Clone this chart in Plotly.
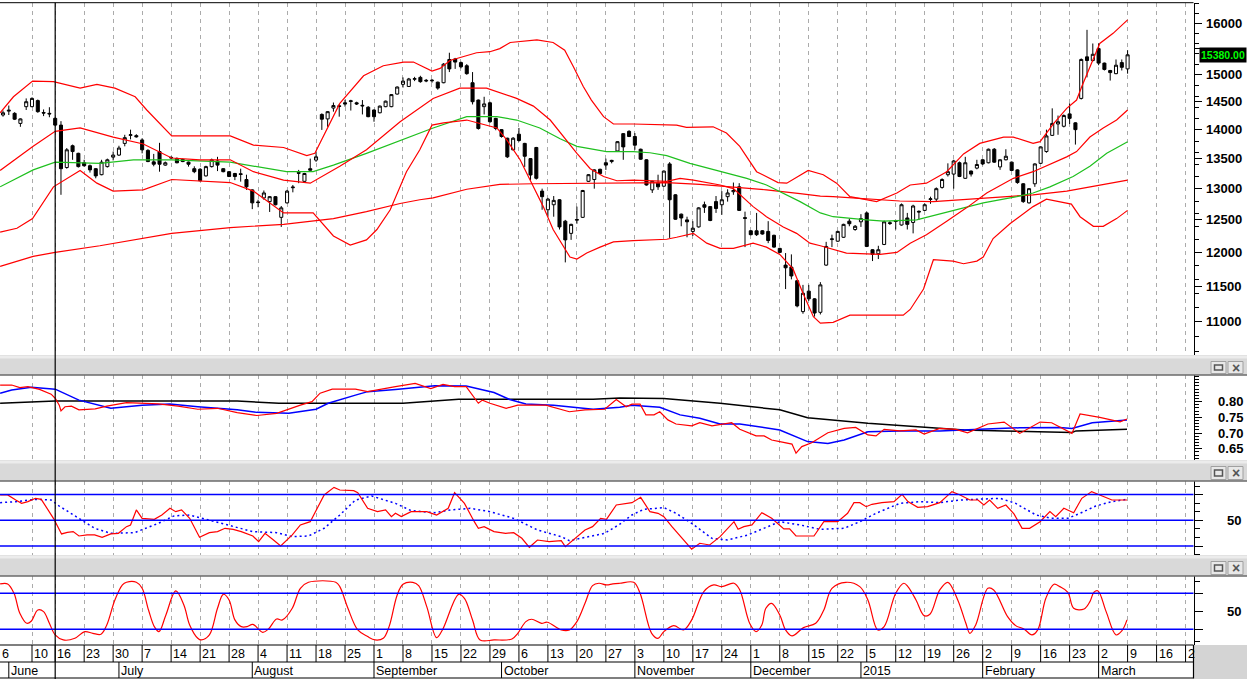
import math
import plotly.graph_objects as go

W, H = 1247, 679

# ---------------- price bars (trading-day index 0..194) ----------------
opens = [14260,14330,14290,14110,14410,14410,14520,14305,14290,14200,
         14080,13350,13720,13590,13430,13380,13330,13230,13365,13525,
         13560,13760,13900,13895,13820,13640,13445,13620,13390,13510,
         13500,13485,13440,13330,13320,13210,13365,13460,13330,13280,
         13250,13245,13150,12980,12785,12850,12790,12870,12540,12770,
         13015,13265,13120,13330,13475,14270,14190,14385,14425,14480,
         14505,14480,14435,14400,14350,14300,14410,14410,14640,14820,
         14780,14915,14950,14895,14885,14860,14850,15290,15300,15230,
         15170,14850,14530,14410,14480,14200,14000,13850,13650,13920,
         13760,13500,13690,12960,12660,12740,12820,12480,12290,12495,
         12540,13120,13150,13320,13430,13450,13630,13930,13970,13880,
         13660,13480,12980,13090,13040,13410,12900,12590,12500,12320,
         12390,12740,12710,12790,12740,12870,12950,13030,12535,12330,
         12330,12330,12320,12260,12060,11810,11780,11580,11140,11430,
         11320,11130,11810,12195,12170,12230,12480,12350,12470,12610,
         12040,11980,12120,12455,12475,12420,12530,12460,12635,12650,
         12825,12830,13020,13230,13240,13430,13170,13290,13340,13480,
         13430,13660,13360,13480,13440,13310,13080,12770,13080,13420,
         13620,13900,14100,14060,14280,14120,14560,15340,15270,15500,
         15220,15080,15020,15230,15110]
highs = [14340,14430,14310,14200,14560,14580,14540,14360,14400,14220,
         14150,13680,13740,13600,13480,13400,13340,13480,13500,13620,
         13720,13910,14000,13920,13850,13660,13580,13770,13450,13540,
         13520,13500,13450,13370,13340,13380,13500,13530,13340,13290,
         13260,13330,13230,12990,12820,12970,12880,12880,12720,12980,
         13060,13310,13260,13500,13620,14290,14330,14485,14460,14535,
         14535,14500,14530,14420,14360,14430,14520,14640,14780,14950,
         14940,14960,14980,14920,14920,14870,15220,15420,15320,15250,
         15200,15050,14540,14590,14500,14210,14010,13860,13870,14030,
         13770,13510,13700,13000,12850,12880,12830,12500,12440,12710,
         12980,13240,13320,13330,13500,13480,13800,13940,13990,13940,
         13670,13490,13130,13230,13300,13440,12910,12600,12550,12480,
         12700,12790,12720,12880,12960,12990,13100,13090,12630,12340,
         12610,12340,12480,12270,12070,11990,11970,11590,11520,11520,
         11330,11560,12160,12270,12330,12440,12520,12420,12590,12630,
         12050,12100,12490,12480,12500,12760,12610,12740,12650,12760,
         12870,13020,13170,13420,13480,13450,13530,13300,13480,13490,
         13670,13680,13490,13660,13450,13320,13090,13010,13420,13710,
         14000,14380,14250,14270,14470,14130,15310,15870,15600,15600,
         15230,15090,15290,15290,15470]
lows = [14230,14260,14170,14050,14350,14400,14300,14240,14220,14070,
        12900,13330,13480,13350,13365,13265,13170,13220,13350,13470,
        13545,13710,13830,13860,13590,13440,13370,13280,13380,13490,
        13420,13440,13365,13255,13120,13200,13350,13290,13270,13190,
        13140,13115,12980,12670,12700,12820,12625,12730,12390,12760,
        12940,13090,13110,13300,13445,13995,14050,14320,14230,14410,
        14340,14440,14270,14220,14140,14290,14400,14400,14630,14760,
        14770,14880,14850,14860,14850,14720,14840,15050,15110,15120,
        15000,14450,14000,14270,14120,13990,13860,13510,13640,13790,
        13360,13140,13150,12660,12550,12550,12350,11850,12190,12440,
        12530,13110,13000,13240,13310,13420,13620,13480,13870,13650,
        13480,13050,12930,12980,13030,12220,12500,12400,12230,12250,
        12380,12610,12480,12610,12580,12790,12900,12640,12080,12260,
        12250,12270,12140,12070,11990,11460,11600,11200,11110,11290,
        11070,11100,11800,12080,12160,12220,12400,12330,12390,12080,
        11870,11900,12110,12420,12350,12410,12350,12290,12500,12640,
        12755,12800,13000,13200,13000,13190,13160,13200,13320,13390,
        13420,13430,13310,13470,13290,13080,12770,12760,13030,13410,
        13600,13890,13910,14040,14100,13740,14540,14950,15250,15180,
        15080,14890,15010,15080,15020]
closes = [14300,14345,14185,14190,14500,14560,14320,14295,14280,14080,
          13330,13650,13620,13365,13380,13310,13210,13440,13480,13560,
          13680,13860,13910,13875,13650,13450,13405,13405,13430,13520,
          13430,13450,13405,13280,13130,13365,13480,13390,13280,13200,
          13200,13235,13030,12770,12775,12930,12870,12740,12690,12960,
          13025,13255,13250,13305,13530,14185,14320,14430,14415,14460,
          14515,14460,14425,14230,14230,14420,14510,14630,14770,14880,
          14920,14925,14870,14885,14895,14750,15200,15110,15240,15150,
          15020,14500,14020,14460,14140,14020,13880,13530,13850,13810,
          13540,13225,13170,12870,12830,12810,12390,12190,12430,12505,
          12970,13230,13310,13250,13390,13470,13790,13700,13880,13730,
          13490,13060,13120,13030,13290,12820,12510,12530,12470,12370,
          12690,12700,12490,12680,12820,12930,12970,12650,12525,12270,
          12270,12280,12180,12080,12000,11770,11650,11220,11400,11320,
          11120,11520,12090,12205,12320,12430,12440,12400,12520,12090,
          11970,12040,12470,12445,12485,12740,12430,12720,12625,12740,
          12835,13000,13150,13280,13460,13200,13430,13240,13400,13410,
          13660,13440,13480,13540,13300,13100,12790,13000,13410,13700,
          13890,14110,14140,14250,14200,14000,15290,15270,15390,15220,
          15100,15040,15180,15140,15380]
bar_index = list(range(len(closes)))

# ---------------- overlays on the price panel (index, price) ----------------
bb_upper = [(-0.5,14300),(1.8,14590),(5.1,14880),(8.7,14870),(13.3,14750),(16.2,14820),
            (19.3,14750),(22.8,14590),(24.8,14350),(29.1,13890),(39.2,13890),(43.2,13730),
            (48.4,13690),(52.4,13550),(53.8,13590),(58.1,14470),(62.2,14980),(65.6,15170),
            (69.1,15240),(70.8,15240),(74,15070),(75.4,15120),(77.1,15270),(81.7,15420),
            (84,15440),(85.7,15500),(87.5,15620),(92.1,15670),(94.9,15620),(96.9,15470),
            (98.4,15150),(100.1,14780),(101.5,14530),(103.6,14230),(105.3,14100),(108.7,14100),
            (116.2,14080),(117.9,14040),(122.5,14050),(124.8,13940),(127.1,13710),(130,13280),
            (133.7,13100),(135.2,13090),(138.9,13300),(141.5,13230),(143.8,13090),(146.1,12870),
            (150.7,12790),(154.2,12930),(156.5,13060),(159.3,13090),(162.8,13280),(165.7,13580),
            (168.5,13760),(172.6,13870),(174.3,13870),(177.7,13760),(178.9,13790),(181.2,14100),
            (183.5,14380),(185.2,14530),(186.1,14780),(187.5,15150),(189.2,15600),(191.5,15800),
            (194,16070)]
bb_middle = [(-0.5,13300),(5.2,13710),(9,13970),(13.3,14030),(19,13870),(24.2,13750),
             (29.1,13510),(34,13480),(39.2,13480),(43.2,13280),(48.4,13140),(53,13090),
             (58.1,13370),(62.7,13650),(68.5,14140),(71.4,14350),(74.2,14560),(78.8,14750),
             (83.4,14750),(88.6,14560),(91.5,14420),(94.4,14170),(96.7,13870),(99,13590),
             (101.3,13330),(103.6,13200),(105.9,13130),(108.7,13140),(114.5,13120),(116.8,13170),
             (119.1,13140),(123.7,13060),(126,13000),(129.4,12710),(131.7,12550),(134.6,12390),
             (136.9,12290),(139.2,12140),(141,12100),(145.5,11990),(151.3,11970),(154.2,12000),
             (156.5,12140),(159.3,12270),(162.8,12480),(166.2,12690),(169.7,12930),(174.3,13170),
             (177.7,13280),(178.9,13330),(183.5,13530),(185.2,13620),(187.5,13870),(189.8,14030),
             (192.1,14170),(194,14350)]
bb_lower = [(-0.5,12310),(2.4,12370),(5.1,12520),(8.7,13030),(13.3,13300),(16.2,13090),
            (19,12960),(24.2,12980),(29.1,13150),(34,13120),(39.2,13100),(43.2,12960),
            (48.4,12610),(53.5,12610),(54.7,12480),(57,12250),(59.9,12110),(62.7,12190),
            (64.5,12350),(66.8,12660),(69.6,13280),(71.9,13650),(74,14080),(76,14120),
            (80,14170),(82.3,14110),(85.2,14030),(86.9,13820),(89.2,13480),(91.5,13030),
            (93.2,12710),(94.9,12350),(96.7,12080),(97.8,11930),(99,11900),(100.7,11990),
            (103,12080),(105.3,12160),(108.7,12180),(114.5,12200),(116.2,12230),(119.1,12290),
            (121.4,12140),(123.7,12060),(126,12060),(129.4,12140),(131.7,12080),(134,11970),
            (136.3,11750),(138,11400),(139.8,11070),(141,10980),(143.2,10990),(146.1,11090),
            (150.7,11090),(155.3,11090),(156.5,11170),(158.8,11460),(160.5,11890),(163.9,11870),
            (165.7,11830),(168,11870),(169.1,11930),(170.8,12210),(173.7,12440),(177.7,12710),
            (180,12830),(182.3,12790),(184.3,12750),(185.8,12550),(188.1,12400),(189.8,12400),
            (192.1,12520),(194,12650)]
ma_long = [(-0.5,11790),(5.2,11940),(9,12000),(16.7,12100),(29.1,12290),(39.2,12380),
           (48.4,12430),(57,12520),(62.7,12630),(68.5,12760),(71.9,12820),(74.2,12850),
           (80,12990),(85.7,13070),(91.5,13080),(103,13090),(114.5,13100),(120.2,13070),
           (126,13030),(131.7,12980),(137.5,12920),(141,12880),(143.2,12870),(149,12830),
           (154.7,12800),(160.5,12790),(166.2,12830),(172,12870),(177.7,12900),(183.5,12960),
           (189.2,13060),(194,13140)]
ma_green = [(-0.5,13030),(5.2,13310),(9,13440),(16.7,13420),(22.5,13480),(29.1,13480),
            (39.2,13440),(43.2,13370),(48.9,13280),(53.5,13280),(57,13390),(62.7,13590),
            (68.5,13815),(71.9,13940),(74.2,14030),(80,14230),(85.2,14230),(88.6,14170),
            (92.6,14030),(96.1,13840),(99,13710),(104.1,13620),(108.7,13620),(111.6,13600),
            (114.5,13550),(118.5,13420),(123.7,13280),(128.3,13170),(131.7,13060),(134.6,12930),
            (137.5,12790),(141,12610),(143.2,12550),(149,12500),(151.9,12480),(157.6,12500),
            (163.4,12630),(169.1,12770),(174.9,12870),(177.7,12930),(180.6,13030),(184.6,13200),
            (187.5,13370),(190.4,13590),(194,13790)]
resistance_level = 13580
resistance_start = 105

# ---------------- panel 2 (ratio lines) ----------------
p2_black = [(-0.5,0.795),(4.3,0.798),(9,0.802),(40.4,0.802),(47.6,0.795),(69,0.795),(75.9,0.805),
            (78.6,0.808),(101.8,0.808),(106.4,0.812),(114,0.810),(123.7,0.795),(134,0.774),
            (138.8,0.749),(149.2,0.731),(158.9,0.718),(165.8,0.710),(172.7,0.707),(184.4,0.702),
            (185.1,0.707),(193.9,0.712)]
p2_blue = [(-0.5,0.827),(1.5,0.837),(4.9,0.846),(9,0.840),(13.1,0.805),(18.6,0.779),(24,0.789),
           (28.8,0.793),(33.6,0.784),(40.4,0.774),(43.8,0.766),(49.3,0.763),(54,0.776),(56.1,0.795),
           (60.8,0.821),(62.9,0.832),(67.7,0.839),(74.5,0.851),(79.9,0.850),(84.7,0.829),(87.4,0.807),
           (90.2,0.793),(95,0.789),(98.4,0.782),(101.8,0.776),(106.4,0.782),(108.5,0.789),(113.3,0.782),
           (116.8,0.758),(120.2,0.747),(123.7,0.729),(127.1,0.729),(134,0.710),(138.8,0.673),
           (142.3,0.667),(145.1,0.678),(149.2,0.704),(154.7,0.707),(161.6,0.707),(168.5,0.712),
           (175.4,0.717),(182.3,0.718),(184.4,0.715),(187.9,0.733),(193.9,0.742)]
p2_red = [(-0.5,0.853),(1.5,0.853),(2.9,0.845),(4.3,0.848),(6.3,0.839),(8.3,0.824),(9.0,0.811),
          (9.7,0.789),(10.0,0.771),(10.7,0.784),(11.8,0.786),(13.1,0.774),(15.9,0.777),(17.9,0.786),
          (21.3,0.797),(23.3,0.795),(26.8,0.793),(30.2,0.786),(33.6,0.776),(37,0.779),(40.4,0.765),
          (43.8,0.756),(47.2,0.763),(51.3,0.789),(53.3,0.800),(54.7,0.827),(56.8,0.840),(60.8,0.840),
          (62.9,0.832),(67.7,0.848),(71.1,0.858),(73.8,0.842),(75.9,0.855),(77.9,0.848),(79.9,0.848),
          (82,0.795),(82.7,0.805),(84,0.795),(86.8,0.779),(88.8,0.789),(93.6,0.789),(97.7,0.768),
          (100.4,0.774),(103.8,0.776),(105.8,0.807),(107.5,0.784),(108.5,0.792),(109.9,0.792),
          (110.9,0.758),(112.3,0.758),(113.3,0.768),(114.7,0.742),(116.1,0.729),(118.8,0.723),
          (120.2,0.733),(122.3,0.723),(124.4,0.729),(125.7,0.733),(127.1,0.712),(129.9,0.691),
          (131.3,0.691),(132.6,0.678),(134,0.673),(136.1,0.665),(136.8,0.636),(137.8,0.657),
          (139.5,0.669),(142.3,0.701),(145.1,0.715),(147.1,0.718),(149.2,0.694),(150.6,0.691),
          (152,0.712),(154.7,0.707),(157.5,0.710),(158.9,0.697),(161.6,0.715),(164.4,0.712),
          (166.4,0.701),(168.5,0.718),(169.9,0.729),(172.7,0.735),(175.4,0.699),(178.9,0.735),
          (180.9,0.733),(184.4,0.699),(185.8,0.761),(189.2,0.750),(192.7,0.736),(193.9,0.745)]

# ---------------- panel 3 (oscillator + signal) ----------------
p3_red = [(-0.5,79.6),(0.8,79.6),(2.2,73.7),(3.2,69.8),(4.3,71.8),(5.6,75.7),(6.6,74.5),(7.7,62.1),
          (8.7,52.3),(10.1,34.1),(11.1,36.0),(12.1,36.8),(13.1,31.7),(14.5,32.9),(15.8,32.9),(17.1,30.2),
          (18.6,34.1),(19.9,34.8),(21.3,42.6),(22,44.6),(23,62.1),(24,52.3),(26.1,51.2),(27.4,56.2),
          (28.8,64.0),(29.8,60.1),(30.8,62.1),(32.2,52.3),(33.9,30.2),(35.6,35.6),(37,36.8),(38.3,40.7),
          (39.7,39.5),(41.1,36.8),(43.1,31.7),(44.1,25.1),(45.2,34.8),(46.5,27.8),(47.9,20.0),(49.9,32.9),
          (51.3,44.6),(53,48.4),(54,62.1),(55.4,79.6),(57.1,88.5),(58.1,85.4),(60.5,84.6),(61.2,82.3),
          (62.9,64.0),(64.6,60.1),(66,62.1),(67,54.3),(67.7,58.2),(68.7,54.3),(70.4,60.1),(73.1,60.1),
          (74.8,56.2),(76.8,64.0),(77.9,82.3),(79.6,69.8),(81.3,48.4),(82,40.7),(83,42.6),(84.7,36.8),
          (86.7,34.8),(88.1,35.6),(89.5,29.0),(90.8,18.5),(92.2,27.0),(94.2,25.1),(96.3,26.3),(97,19.3),
          (100.4,38.7),(101.7,42.6),(103.1,52.3),(104.1,51.2),(105.8,67.9),(108.5,70.6),(110,76.8),
          (111.6,60.1),(113,58.2),(114,54.3),(115.4,42.6),(118.8,16.2),(120.2,23.2),(121.9,21.2),
          (123.7,30.9),(126.1,48.4),(126.8,39.5),(127.8,42.6),(129.2,44.6),(130.9,58.9),(132.6,52.3),
          (134.7,39.9),(135.7,39.9),(136.8,31.7),(139.9,31.7),(141.6,48.4),(144,48.4),(145.7,58.2),
          (146.8,70.6),(147.8,70.6),(148.9,65.9),(149.9,68.7),(151.6,70.6),(153.7,71.8),(155.1,80.3),
          (156.1,71.8),(157.8,65.2),(159.5,65.9),(161.6,70.6),(163.7,83.5),(165.1,79.6),(166.8,73.7),
          (168.2,73.7),(169.2,67.9),(170.2,73.7),(171.6,64.0),(173,67.9),(174.4,57.4),(175.8,40.7),
          (177.1,40.7),(178.9,48.4),(180.6,60.1),(181.6,54.3),(183,64.0),(184.7,58.9),(186.1,75.7),
          (187.8,83.5),(189.2,79.6),(191.3,73.7),(193.9,73.7)]
p3_signal = [(-0.5,70.6),(2.2,71.8),(5.6,74.5),(8.3,73.7),(9.7,66.7),(13.1,52.3),(15.8,40.7),
             (18.6,34.8),(22.7,35.6),(26.8,46.5),(29.5,55.1),(32.2,56.2),(35,51.2),(39,44.6),
             (43.1,36.8),(47.2,35.6),(49.9,30.9),(52.7,31.7),(55.4,40.7),(58.1,56.2),(60.8,73.7),
             (63.6,78.4),(67.7,69.8),(70.4,61.3),(74.5,58.9),(77.2,62.1),(80.6,64.0),(84,60.1),
             (88.1,52.3),(92.2,38.7),(96.3,30.9),(97.7,26.3),(101.1,30.9),(103.8,34.8),(106.4,45.5),
             (108.5,56.2),(110.5,62.8),(114,64.8),(116.1,58.2),(118.8,46.5),(122.3,29.0),(125,27.0),
             (128.5,32.9),(131.9,42.6),(134,48.4),(137.5,44.6),(140.9,39.5),(145.1,40.7),(147.8,48.4),
             (150.6,58.2),(154.7,69.8),(158.2,71.8),(161.6,70.6),(165.1,73.7),(172,75.7),(174.7,69.8),
             (178.2,56.2),(180.9,52.3),(183.7,52.3),(185.8,58.2),(188.5,66.7),(191.3,71.8),(193.9,74.5)]

# ---------------- panel 4 (stochastic) ----------------
p4_red = [(-0.5,95.6),(0.8,95.6),(1.9,80.0),(2.9,46.7),(4.1,30.0),(4.9,33.9),(6,52.2),(7,49.4),(8,30.0),
          (9,10.6),(10.4,2.2),(12.4,5.0),(14.1,16.1),(15.5,13.3),(16.9,11.7),(17.9,27.2),(19.3,68.9),
          (20.6,93.9),(21.3,98.3),(23,98.3),(24,88.3),(25.1,52.2),(26.1,24.4),(26.9,16.1),(28.1,43.9),
          (29.8,83.9),(31.2,60.6),(32.2,27.2),(33.6,5.0),(34.2,2.2),(35.6,10.6),(37,55.0),(38,78.3),
          (39,68.9),(40,35.6),(41.1,24.4),(42.1,24.4),(43.1,28.3),(44.8,15.0),(45.8,20.6),(47.2,37.2),
          (48.2,35.6),(49.9,55.0),(51.3,88.3),(52.7,98.3),(57.4,98.3),(58.1,91.1),(59.5,55.0),(61.2,18.9),
          (62.9,7.8),(64.2,2.2),(65.6,5.0),(66.6,24.4),(68,77.2),(69,95.0),(70.7,98.3),(71.7,92.8),
          (73.1,57.8),(74.8,6.1),(75.8,18.9),(78.6,78.3),(79.6,71.7),(81,35.6),(82.3,2.2),(84.7,2.2),
          (87.8,3.9),(88.8,13.3),(90.2,32.8),(91.2,36.7),(92.9,30.0),(93.9,31.7),(96.3,18.9),(97.7,18.9),
          (99,32.8),(100.4,63.3),(101.7,92.8),(102.8,96.7),(104.1,93.9),(105.2,95.6),(106.4,96.7),
          (108.8,98.3),(109.9,80.0),(111.9,13.3),(113,5.0),(114,16.1),(115.7,26.1),(117.4,18.9),
          (118.8,35.6),(120.9,82.8),(122.6,93.9),(124,91.1),(126.1,96.7),(127.1,85.6),(128.8,30.0),
          (129.9,16.1),(130.9,27.2),(131.6,55.0),(132.6,63.3),(134,43.9),(135,18.9),(136.1,8.9),
          (138.1,22.8),(140.2,30.0),(141.6,52.2),(143,88.3),(145.4,98.3),(147.8,91.1),(149.2,68.9),
          (150.9,18.9),(152,24.4),(154,80.0),(155.4,96.7),(156.1,91.1),(157.5,68.9),(158.9,42.8),
          (159.9,45.0),(161.6,85.6),(163,98.3),(164.7,68.9),(166.1,30.0),(166.8,13.3),(167.8,27.2),
          (169.9,88.3),(170.9,85.6),(173.3,41.1),(174.7,26.1),(176.1,20.6),(177.5,10.6),(178.5,18.9),
          (179.9,71.7),(181.3,95.0),(182.3,91.1),(183.7,81.7),(184.7,55.0),(186.5,53.9),(187.5,66.1),
          (188.2,81.7),(188.9,83.9),(190.3,49.4),(192,10.6),(193,17.2),(193.9,35.6)]

# ---------------- date axis ----------------
week_ticks = [5] + list(range(9, 205, 5))
week_labels = ["10","16","23","30","7","14","21","28","4","11","18","25","1","8","15","22","29",
               "6","13","20","27","3","10","17","24","1","8","15","22","5","12","19","26","2","9",
               "16","23","2","9","16","2"]
month_ticks = [1, 20, 43, 64, 86, 109, 129, 148, 169, 189]
month_labels = ["June","July","August","September","October","November","December","2015",
                "February","March"]
cursor_index = 9

# ---------------- geometry helpers ----------------
XR = (-0.52, 205.37)
XDOM = (0.0, 1193.5 / W)
def py(p):
    return 1 - p / H
def pxp(p):
    return p / W
def idx_paper(i):
    return XDOM[1] * (i - XR[0]) / (XR[1] - XR[0])

FONT = "Liberation Sans"
RED, GREEN, BLUE = "#ff0000", "#1fc01f", "#0000ff"

fig = go.Figure()

fig.add_trace(go.Candlestick(
    x=bar_index, open=opens, high=highs, low=lows, close=closes,
    xaxis="x", yaxis="y", whiskerwidth=0,
    increasing=dict(line=dict(color="black", width=1), fillcolor="white"),
    decreasing=dict(line=dict(color="black", width=1), fillcolor="black"),
    hoverinfo="skip"))

def add_line(pts, color, xa, ya, width=1.2, dash=None, shape="linear"):
    xs = [p[0] for p in pts]
    ys = [p[1] for p in pts]
    fig.add_trace(go.Scatter(x=xs, y=ys, mode="lines", xaxis=xa, yaxis=ya,
                             line=dict(color=color, width=width, dash=dash, shape=shape),
                             hoverinfo="skip"))

add_line(ma_long, RED, "x", "y")
add_line(ma_green, GREEN, "x", "y")
add_line(bb_lower, RED, "x", "y")
add_line(bb_middle, RED, "x", "y")
add_line(bb_upper, RED, "x", "y")

add_line(p2_black, "black", "x2", "y2", 1.5)
add_line(p2_blue, BLUE, "x2", "y2", 1.5)
add_line(p2_red, RED, "x2", "y2", 1.2)

add_line(p3_signal, BLUE, "x3", "y3", 1.5, dash="2px,3px")
add_line(p3_red, RED, "x3", "y3", 1.2)

add_line(p4_red, RED, "x4", "y4", 1.2, shape="spline")

# ---------------- axes ----------------
gx = dict(range=list(XR), domain=list(XDOM), showticklabels=False, ticks="",
          tickmode="array", tickvals=week_ticks, showgrid=True, gridcolor="#ababab",
          griddash="4px,4px", gridwidth=1, zeroline=False, showline=False,
          rangeslider=dict(visible=False), fixedrange=True)

tickfont = dict(family=FONT, size=13, color="black", weight="bold")
main_major = list(range(11000, 16001, 500))
last_close = closes[-1]
# the label that sits under the last-price tag is hidden, as in the source chart
main_text = ["" if abs(v - last_close) < 200 else str(v) for v in main_major]
main_minor = [v for v in range(10600, 16401, 200) if v % 500 != 0]

D_MAIN = [py(355), py(2.7)]
D_P2 = [py(460), py(375)]
D_P3 = [py(555), py(481)]
D_P4 = [py(645), py(576)]

fig.update_layout(
    width=W, height=H, margin=dict(l=0, r=0, t=0, b=0),
    paper_bgcolor="white", plot_bgcolor="white", showlegend=False,
    boxgap=0.25,
    xaxis=dict(gx, anchor="y"),
    xaxis2=dict(gx, anchor="y2", matches="x"),
    xaxis3=dict(gx, anchor="y3", matches="x"),
    xaxis4=dict(gx, anchor="y4", matches="x"),
    yaxis=dict(type="log", range=[math.log10(10549), math.log10(16420)], domain=D_MAIN,
               side="right", anchor="x", showgrid=False, zeroline=False,
               showline=True, linecolor="black", linewidth=1,
               ticks="outside", ticklen=7, tickcolor="black", tickwidth=1,
               tickmode="array", tickvals=main_major, ticktext=main_text,
               tickfont=tickfont, ticklabelstandoff=2,
               minor=dict(tickmode="array", tickvals=main_minor, ticks="outside",
                          ticklen=4, tickcolor="black"), fixedrange=True),
    yaxis2=dict(range=[0.6143, 0.885], domain=D_P2, side="right", anchor="x2",
                showgrid=False, zeroline=False, showline=True, linecolor="black",
                ticks="outside", ticklen=7, tickcolor="black",
                tickmode="array", tickvals=[0.65, 0.70, 0.75, 0.80],
                ticktext=["0.65", "0.70", "0.75", "0.80"], tickfont=tickfont,
                ticklabelstandoff=14,
                minor=dict(tickmode="array",
                           tickvals=[round(0.62 + 0.01 * k, 2) for k in range(27)],
                           ticks="outside", ticklen=4, tickcolor="black"), fixedrange=True),
    yaxis3=dict(range=[9.5, 95.9], domain=D_P3, side="right", anchor="x3",
                showgrid=False, zeroline=False, showline=True, linecolor="black",
                ticks="outside", ticklen=8, tickcolor="black",
                tickmode="array", tickvals=[20, 50, 80], ticktext=["", "50", ""],
                tickfont=tickfont, ticklabelstandoff=22,
                minor=dict(tickmode="array", tickvals=[10, 30, 40, 60, 70, 90],
                           ticks="outside", ticklen=5, tickcolor="black"), fixedrange=True),
    yaxis4=dict(range=[-6.2, 108.8], domain=D_P4, side="right", anchor="x4",
                showgrid=False, zeroline=False, showline=True, linecolor="black",
                ticks="outside", ticklen=8, tickcolor="black",
                tickmode="array", tickvals=[20, 50, 80], ticktext=["", "50", ""],
                tickfont=tickfont, ticklabelstandoff=22,
                minor=dict(tickmode="array", tickvals=[0, 100],
                           ticks="outside", ticklen=5, tickcolor="black"), fixedrange=True),
)

shapes = []
annotations = []

# reference levels in oscillator panels
for lvl in (20, 50, 80):
    shapes.append(dict(type="line", xref="paper", yref="y3", x0=0, x1=XDOM[1], y0=lvl, y1=lvl,
                       line=dict(color=BLUE, width=1.5), layer="above"))
for lvl in (20, 80):
    shapes.append(dict(type="line", xref="paper", yref="y4", x0=0, x1=XDOM[1], y0=lvl, y1=lvl,
                       line=dict(color=BLUE, width=1.5), layer="above"))

# resistance line
shapes.append(dict(type="line", xref="paper", yref="y",
                   x0=idx_paper(resistance_start), x1=pxp(1215),
                   y0=math.log10(resistance_level), y1=math.log10(resistance_level),
                   line=dict(color="rgba(178,68,52,0.92)", width=4), layer="above"))

# top border of price panel
shapes.append(dict(type="line", xref="paper", yref="paper", x0=0, x1=XDOM[1],
                   y0=py(2.7), y1=py(2.7), line=dict(color="black", width=1)))

# panel header bars
for top, bot in ((355, 375), (460, 481), (555, 576)):
    shapes.append(dict(type="rect", xref="paper", yref="paper", x0=0, x1=1, y0=py(bot), y1=py(top),
                       fillcolor="#d9d9d9", line=dict(width=0), layer="above"))
    shapes.append(dict(type="rect", xref="paper", yref="paper", x0=0, x1=1, y0=py(top + 3.5),
                       y1=py(top + 0.5), fillcolor="#ececec", line=dict(width=0), layer="above"))
    shapes.append(dict(type="line", xref="paper", yref="paper", x0=0, x1=1, y0=py(bot), y1=py(bot),
                       line=dict(color="#6a6a6a", width=1.5), layer="above"))
    for bx0, bx1 in ((1211, 1226), (1228, 1243)):
        shapes.append(dict(type="rect", xref="paper", yref="paper", x0=pxp(bx0), x1=pxp(bx1),
                           y0=py(bot - 1.5), y1=py(top + 6.5), fillcolor="#e8e8e8",
                           line=dict(color="#a0a0a0", width=1), layer="above"))
    shapes.append(dict(type="rect", xref="paper", yref="paper", x0=pxp(1214.5), x1=pxp(1222.5),
                       y0=py(bot - 5), y1=py(top + 10), fillcolor="rgba(0,0,0,0)",
                       line=dict(color="#555555", width=1.5), layer="above"))
    annotations.append(dict(text="×", xref="paper", yref="paper", x=pxp(1235.5),
                            y=py((top + 6.5 + bot - 1.5) / 2), xanchor="center", yanchor="middle",
                            showarrow=False, font=dict(family=FONT, size=14, color="#555555",
                                                       weight="bold")))

# cursor line
shapes.append(dict(type="line", xref="x", yref="paper", x0=cursor_index, x1=cursor_index,
                   y0=0, y1=py(2.7), line=dict(color="black", width=1.2), layer="above"))

# date strip
for yy in (645, 662, 678):
    shapes.append(dict(type="line", xref="paper", yref="paper", x0=0, x1=XDOM[1], y0=py(yy), y1=py(yy),
                       line=dict(color="black", width=1.2), layer="above"))
shapes.append(dict(type="rect", xref="paper", yref="paper", x0=XDOM[1], x1=1, y0=0, y1=py(645),
                   fillcolor="#d4d4d4", line=dict(width=0), layer="above"))
shapes.append(dict(type="line", xref="paper", yref="paper", x0=XDOM[1], x1=XDOM[1], y0=py(678.5),
                   y1=py(645), line=dict(color="black", width=1.2), layer="above"))
for t, lab in zip(week_ticks, week_labels):
    shapes.append(dict(type="line", xref="x4", yref="paper", x0=t, x1=t, y0=py(662), y1=py(645),
                       line=dict(color="black", width=1), layer="above"))
    annotations.append(dict(text=lab, xref="x4", yref="paper", x=t, y=py(653.5), xanchor="left",
                            yanchor="middle", xshift=0, showarrow=False,
                            font=dict(family=FONT, size=12.5, color="black")))
annotations.append(dict(text="6", xref="paper", yref="paper", x=0, y=py(653.5), xanchor="left",
                        yanchor="middle", showarrow=False, font=dict(family=FONT, size=12.5, color="black")))
for t, lab in zip(month_ticks, month_labels):
    shapes.append(dict(type="line", xref="x4", yref="paper", x0=t, x1=t, y0=py(678), y1=py(662),
                       line=dict(color="black", width=1), layer="above"))
    annotations.append(dict(text=lab, xref="x4", yref="paper", x=t, y=py(670.5), xanchor="left",
                            yanchor="middle", showarrow=False,
                            font=dict(family=FONT, size=12.5, color="black")))

# last price tag
annotations.append(dict(text=f"{last_close:.2f}", xref="paper", yref="y", x=pxp(1198.5),
                        y=math.log10(last_close), xanchor="left", yanchor="middle", showarrow=False,
                        bgcolor="black", borderpad=1,
                        font=dict(family=FONT, size=10.5, color="#00ff00", weight="bold")))

fig.update_layout(shapes=shapes, annotations=annotations)
fig.write_html("out.html")
